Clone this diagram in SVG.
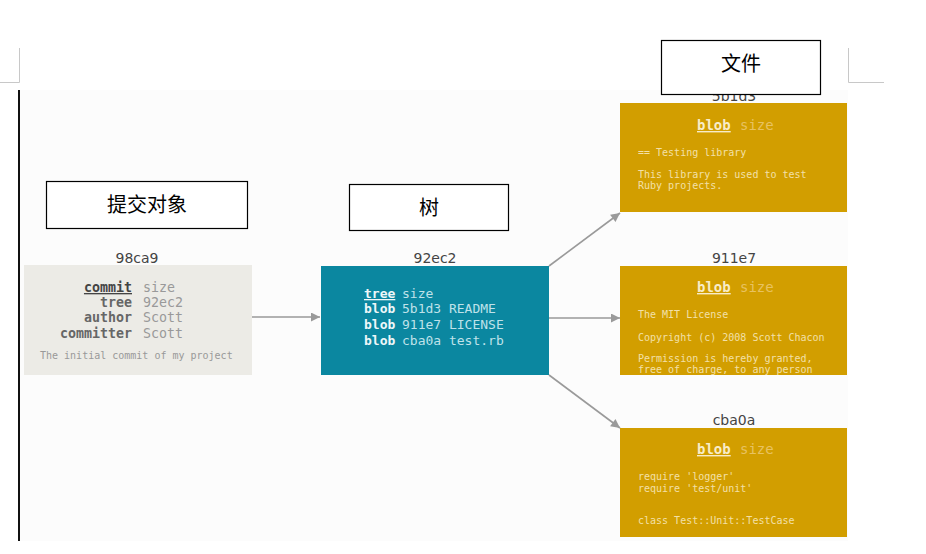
<svg xmlns="http://www.w3.org/2000/svg" width="926" height="554" viewBox="0 0 926 554">
<defs>
<style>
.mono{font-family:"DejaVu Sans Mono","Liberation Mono",monospace}
.hash{font-family:"DejaVu Sans",sans-serif;font-size:14px;fill:#444;text-anchor:middle}
.lbl{font-family:"Noto Sans CJK SC","Noto Sans CJK JP",sans-serif;font-size:20px;fill:#000;text-anchor:middle}
.lblbox{fill:#fff;stroke:#000;stroke-width:1.2}
.conn{stroke:#9a9a9a;stroke-width:1.6;fill:none;marker-end:url(#ah)}
.blob{fill:#d29e00}
.btxt{font-size:10px;fill:#f3e0a8}
</style>
<marker id="ah" viewBox="0 0 10 10" refX="10" refY="5" markerWidth="11" markerHeight="9" orient="auto" markerUnits="userSpaceOnUse">
<path d="M0,0 L10,5 L0,10 z" fill="#9a9a9a"/>
</marker>
<clipPath id="c2"><rect x="620" y="266" width="227" height="109"/></clipPath>
</defs>
<rect width="926" height="554" fill="#fff"/>
<path d="M0,82.5 H19.5 V48" stroke="#c8c8c8" stroke-width="1" fill="none"/>
<path d="M848.5,48 V82.5 H884" stroke="#c8c8c8" stroke-width="1" fill="none"/>
<rect x="19" y="90" width="829" height="451" fill="#fcfcfc"/>
<rect x="18" y="90" width="2" height="451" fill="#111"/>
<g id="connectors">
<line class="conn" x1="252" y1="317" x2="320" y2="317"/>
<line class="conn" x1="549" y1="266" x2="620" y2="213"/>
<line class="conn" x1="549" y1="318" x2="620" y2="318"/>
<line class="conn" x1="549" y1="375" x2="620" y2="428"/>
</g>
<g id="commit">
<text class="hash" x="137" y="263">98ca9</text>
<rect x="24" y="265" width="228" height="110" fill="#ecebe6"/>
<g class="mono" font-size="13.3" text-anchor="end" font-weight="bold">
<text x="132" y="292" fill="#444" text-decoration="underline">commit</text>
<text x="132" y="307" fill="#666">tree</text>
<text x="132" y="322" fill="#666">author</text>
<text x="132" y="338" fill="#666">committer</text>
</g>
<g class="mono" font-size="13.3" fill="#999">
<text x="143" y="292">size</text>
<text x="143" y="307">92ec2</text>
<text x="143" y="322">Scott</text>
<text x="143" y="338">Scott</text>
</g>
<text class="mono" x="40" y="359" font-size="10" fill="#999">The initial commit of my project</text>
</g>
<g id="tree">
<text class="hash" x="435" y="263">92ec2</text>
<rect x="321" y="266" width="228" height="109" fill="#0b87a0"/>
<g class="mono" font-size="13" font-weight="bold" fill="#eef7f9">
<text x="364" y="298" text-decoration="underline">tree</text>
<text x="364" y="313">blob</text>
<text x="364" y="329">blob</text>
<text x="364" y="345">blob</text>
</g>
<g class="mono" font-size="13" fill="#bfe2ea">
<text x="402" y="298">size</text>
<text x="402" y="313">5b1d3 README</text>
<text x="402" y="329">911e7 LICENSE</text>
<text x="402" y="345">cba0a test.rb</text>
</g>
</g>
<g id="blob1">
<text class="hash" x="734" y="101">5b1d3</text>
<rect class="blob" x="620" y="103" width="227" height="109"/>
<text class="mono" x="697" y="130" font-size="14" font-weight="bold" fill="#f8ecc8" text-decoration="underline">blob</text>
<text class="mono" x="740" y="130" font-size="14" fill="#e8c260">size</text>
<g class="mono btxt">
<text x="638" y="156">== Testing library</text>
<text x="638" y="178">This library is used to test</text>
<text x="638" y="189">Ruby projects.</text>
</g>
</g>
<g id="blob2">
<text class="hash" x="734" y="263">911e7</text>
<rect class="blob" x="620" y="266" width="227" height="109"/>
<text class="mono" x="697" y="292" font-size="14" font-weight="bold" fill="#f8ecc8" text-decoration="underline">blob</text>
<text class="mono" x="740" y="292" font-size="14" fill="#e8c260">size</text>
<g class="mono btxt" clip-path="url(#c2)">
<text x="638" y="318">The MIT License</text>
<text x="638" y="341">Copyright (c) 2008 Scott Chacon</text>
<text x="638" y="362">Permission is hereby granted,</text>
<text x="638" y="373">free of charge, to any person</text>
</g>
</g>
<g id="blob3">
<text class="hash" x="734" y="425">cba0a</text>
<rect class="blob" x="620" y="428" width="227" height="109"/>
<text class="mono" x="697" y="454" font-size="14" font-weight="bold" fill="#f8ecc8" text-decoration="underline">blob</text>
<text class="mono" x="740" y="454" font-size="14" fill="#e8c260">size</text>
<g class="mono btxt">
<text x="638" y="480">require 'logger'</text>
<text x="638" y="492">require 'test/unit'</text>
<text x="638" y="524">class Test::Unit::TestCase</text>
</g>
</g>
<g id="label-commit">
<rect class="lblbox" x="46.5" y="181.5" width="201" height="47"/>
<text class="lbl" x="147" y="212">提交对象</text>
</g>
<g id="label-tree">
<rect class="lblbox" x="349.5" y="184.5" width="159" height="46"/>
<text class="lbl" x="429" y="215">树</text>
</g>
<g id="label-file">
<rect class="lblbox" x="661.5" y="40.5" width="159" height="54"/>
<text class="lbl" x="741" y="71">文件</text>
</g>
</svg>
